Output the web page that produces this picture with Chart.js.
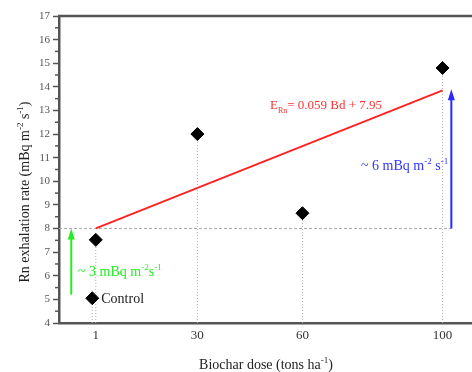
<!DOCTYPE html>
<html>
<head>
<meta charset="utf-8">
<script src="https://cdn.jsdelivr.net/npm/chart.js@4.4.1/dist/chart.umd.min.js"></script>
<style>
html,body{margin:0;padding:0;background:#fff;}
#wrap{width:472px;height:372px;position:relative;}
</style>
</head>
<body>
<div id="wrap"><canvas id="c"></canvas></div>
<script>
// ---- data ----
const doseLabels = ['Control', '1', '30', '60', '100'];
const doses = [0, 1, 30, 60, 100];
const rates = [5.05, 7.52, 12.0, 8.65, 14.8];
const xTickValues = [1, 30, 60, 100];
const yTickRange = [4, 17];
const xRange = [-9.5, 108.4];
const fitSlope = 0.059;
const fitIntercept = 7.95;
const fitDoseRange = [1, 100];
const refLevel = 8;
const refLineDoseRange = [-9.5, 102.5];
const greenArrowDose = -6;
const greenArrowRates = [5.2, 8.0];
const blueArrowDose = 102.5;
const blueArrowRates = [8.0, 13.9];

const FONT = "'Liberation Serif', 'DejaVu Serif', serif";

const pointData = doses.map((d, i) => ({x: d, y: rates[i]}));
const dropLines = doses.map((d, i) => ({
  type: 'line', data: [{x: d, y: yTickRange[0]}, {x: d, y: rates[i]}],
  borderColor: '#b0b0b0', borderWidth: 1, borderDash: [1, 2],
  pointRadius: 0, showLine: true, order: 5
}));
const fitData = fitDoseRange.map(d => ({x: d, y: fitSlope * d + fitIntercept}));
const refData = refLineDoseRange.map(d => ({x: d, y: refLevel}));

// draw text with sub/superscripts: parts = [[text, 'n'|'sup'|'sub'], ...]
function richText(ctx, parts, x, y, size, align) {
  const small = Math.round(size * 0.62);
  let total = 0;
  parts.forEach(p => {
    ctx.font = (p[1] === 'n' ? size : small) + 'px ' + FONT;
    total += ctx.measureText(p[0]).width;
  });
  let cx = align === 'center' ? x - total / 2 : (align === 'right' ? x - total : x);
  ctx.textAlign = 'left';
  ctx.textBaseline = 'alphabetic';
  parts.forEach(p => {
    const s = p[1] === 'n' ? size : small;
    ctx.font = s + 'px ' + FONT;
    let dy = 0;
    if (p[1] === 'sup') dy = -size * 0.42;
    if (p[1] === 'sub') dy = size * 0.28;
    ctx.fillText(p[0], cx, y + dy);
    cx += ctx.measureText(p[0]).width;
  });
}

function arrow(ctx, x, y0, y1, color) {
  ctx.save();
  ctx.strokeStyle = color; ctx.fillStyle = color; ctx.lineWidth = 2;
  ctx.beginPath(); ctx.moveTo(x, y0); ctx.lineTo(x, y1 + 8); ctx.stroke();
  ctx.beginPath(); ctx.moveTo(x, y1); ctx.lineTo(x - 3.5, y1 + 11); ctx.lineTo(x + 3.5, y1 + 11); ctx.closePath(); ctx.fill();
  ctx.restore();
}

const annot = {
  id: 'annot',
  afterDraw(chart) {
    const ctx = chart.ctx, xs = chart.scales.x, ys = chart.scales.y, a = chart.chartArea;
    ctx.save();
    // top frame line
    ctx.strokeStyle = '#555'; ctx.lineWidth = 2.5;
    ctx.beginPath(); ctx.moveTo(a.left - 1, a.top); ctx.lineTo(a.right, a.top); ctx.stroke();
    // minor y ticks
    ctx.lineWidth = 1.5;
    for (let v = yTickRange[0] + 0.5; v < yTickRange[1]; v += 1) {
      const py = ys.getPixelForValue(v);
      ctx.beginPath(); ctx.moveTo(a.left - 1, py); ctx.lineTo(a.left - 4, py); ctx.stroke();
    }
    // arrows
    arrow(ctx, xs.getPixelForValue(greenArrowDose), ys.getPixelForValue(greenArrowRates[0]), ys.getPixelForValue(greenArrowRates[1]), '#22ee22');
    arrow(ctx, xs.getPixelForValue(blueArrowDose), ys.getPixelForValue(blueArrowRates[0]), ys.getPixelForValue(blueArrowRates[1]), '#2a2aff');
    // labels
    ctx.fillStyle = '#222';
    richText(ctx, [['Control', 'n']], xs.getPixelForValue(doses[0]) + 9, ys.getPixelForValue(rates[0]) + 5, 14, 'left');
    ctx.fillStyle = '#22ee22';
    richText(ctx, [['~ 3 mBq m', 'n'], ['-2', 'sup'], ['s', 'n'], ['-1', 'sup']], 78, 276, 14, 'left');
    ctx.fillStyle = '#3333ff';
    richText(ctx, [['~ 6 mBq m', 'n'], ['-2', 'sup'], [' s', 'n'], ['-1', 'sup']], 361, 170, 14, 'left');
    ctx.fillStyle = '#ff3333';
    richText(ctx, [['E', 'n'], ['Rn', 'sub'], ['= 0.059 Bd + 7.95', 'n']], 270, 109, 13, 'left');
    // axis titles
    ctx.fillStyle = '#222';
    richText(ctx, [['Biochar dose (tons ha', 'n'], ['-1', 'sup'], [')', 'n']], 266, 369, 14, 'center');
    ctx.save();
    ctx.translate(29, 192);
    ctx.rotate(-Math.PI / 2);
    richText(ctx, [['Rn exhalation rate (mBq m', 'n'], ['-2', 'sup'], [' s', 'n'], ['-1', 'sup'], [')', 'n']], 0, 0, 14, 'center');
    ctx.restore();
    ctx.restore();
  }
};

new Chart(document.getElementById('c'), {
  type: 'scatter',
  data: {
    datasets: [
      ...dropLines,
      {type: 'line', data: refData, borderColor: '#aaaaaa', borderWidth: 1, borderDash: [3, 2], pointRadius: 0, showLine: true, order: 4},
      {type: 'line', data: fitData, borderColor: '#ff2020', borderWidth: 1.8, pointRadius: 0, showLine: true, order: 3},
      {data: pointData, backgroundColor: '#000', borderColor: '#000', pointStyle: 'rectRot', pointRadius: 6.5, pointHoverRadius: 6.5, order: 1}
    ]
  },
  options: {
    responsive: true, maintainAspectRatio: false, animation: false,
    events: [],
    layout: {autoPadding: false, padding: {top: 16, right: 0, left: 0, bottom: 0}},
    plugins: {legend: {display: false}, tooltip: {enabled: false}},
    scales: {
      x: {
        type: 'linear', min: xRange[0], max: xRange[1],
        afterFit(s) { s.height = 49; s.paddingLeft = 0; s.paddingRight = 0; },
        afterBuildTicks(s) { s.ticks = xTickValues.map(v => ({value: v})); },
        grid: {display: false, drawTicks: false},
        border: {display: true, color: '#555', width: 2.5},
        ticks: {color: '#333', font: {family: FONT, size: 13}, padding: 5, autoSkip: false, maxRotation: 0,
          callback: v => String(v)}
      },
      y: {
        type: 'linear', min: yTickRange[0], max: yTickRange[1],
        afterFit(s) { s.width = 59; s.paddingTop = 0; s.paddingBottom = 0; },
        grid: {display: true, drawOnChartArea: false, drawTicks: true, tickLength: 6, color: '#555', tickColor: '#555', tickWidth: 1.5},
        border: {display: true, color: '#555', width: 2.5},
        ticks: {stepSize: 1, color: '#555', font: {family: FONT, size: 11}, padding: 3}
      }
    }
  },
  plugins: [annot]
});
</script>
</body>
</html>
